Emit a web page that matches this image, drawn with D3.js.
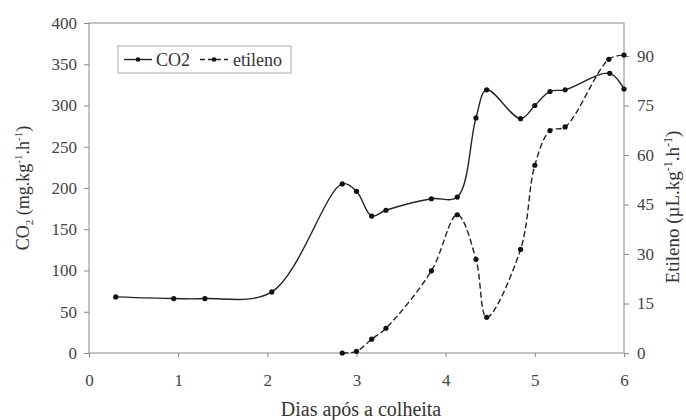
<!DOCTYPE html>
<html lang="pt">
<head>
<meta charset="utf-8">
<title>CO2 e etileno</title>
<script src="https://cdn.jsdelivr.net/npm/d3@7"></script>
<style>
  body { margin: 0; background: #fff; }
  svg text { font-family: "Liberation Serif", "DejaVu Serif", serif; fill: #333; }
  .axis path, .axis line { stroke: #888; }
  .axis text { font-size: 17px; fill: #444; }
</style>
</head>
<body>
<div id="chart"></div>
<script>
var co2Dias = [0.3, 0.95, 1.3, 2.05, 2.84, 3.0, 3.17, 3.33, 3.84, 4.13, 4.34, 4.46, 4.84, 5.0, 5.17, 5.34, 5.84, 6.0];
var co2Valores = [68, 66, 66, 74, 205, 196, 166, 173, 187, 189, 285, 319, 284, 300, 317, 319, 339, 320];

var etilenoDias = [2.84, 3.0, 3.17, 3.33, 3.84, 4.13, 4.34, 4.46, 4.84, 5.0, 5.17, 5.34, 5.83, 6.0];
var etilenoValores = [0, 0.5, 4.2, 7.5, 24.9, 41.9, 28.4, 10.8, 31.4, 56.9, 67.4, 68.5, 89, 90.3];

var xTicks = [0, 1, 2, 3, 4, 5, 6];
var yTicks = [0, 50, 100, 150, 200, 250, 300, 350, 400];
var y2Ticks = [0, 15, 30, 45, 60, 75, 90];

var width = 686, height = 420;
var margin = {top: 23, right: 62, bottom: 67, left: 89};

var svg = d3.select("#chart").append("svg")
    .attr("width", width)
    .attr("height", height);

var x = d3.scaleLinear().domain([0, 6]).range([margin.left, width - margin.right]);
var y = d3.scaleLinear().domain([0, 400]).range([height - margin.bottom, margin.top]);
var y2 = d3.scaleLinear().domain([0, 100]).range([height - margin.bottom, margin.top]);

// moldura
svg.append("rect")
    .attr("x", margin.left).attr("y", margin.top)
    .attr("width", width - margin.left - margin.right)
    .attr("height", height - margin.top - margin.bottom)
    .attr("fill", "none").attr("stroke", "#888");

function limpa(g) {
  g.attr("font-family", null).attr("font-size", null);
  g.select(".domain").remove();
}

svg.append("g").attr("class", "axis")
    .attr("transform", "translate(0," + (height - margin.bottom) + ")")
    .call(d3.axisBottom(x).tickValues(xTicks).tickFormat(d3.format("d")).tickSize(4).tickPadding(17))
    .call(limpa);

svg.append("g").attr("class", "axis")
    .attr("transform", "translate(" + margin.left + ",0)")
    .call(d3.axisLeft(y).tickValues(yTicks).tickSize(5).tickPadding(7))
    .call(limpa);

svg.append("g").attr("class", "axis")
    .attr("transform", "translate(" + (width - margin.right) + ",0)")
    .call(d3.axisRight(y2).tickValues(y2Ticks).tickSize(5).tickPadding(8))
    .call(limpa);

var co2 = co2Dias.map(function(d, i) { return [d, co2Valores[i]]; });
var etileno = etilenoDias.map(function(d, i) { return [d, etilenoValores[i]]; });

var lineCo2 = d3.line()
    .x(function(d) { return x(d[0]); })
    .y(function(d) { return y(d[1]); })
    .curve(d3.curveCatmullRom.alpha(0.5));

var lineEt = d3.line()
    .x(function(d) { return x(d[0]); })
    .y(function(d) { return y2(d[1]); })
    .curve(d3.curveCatmullRom.alpha(0.5));

svg.append("path").datum(co2)
    .attr("d", lineCo2)
    .attr("fill", "none").attr("stroke", "#222").attr("stroke-width", 1.4);

svg.append("path").datum(etileno)
    .attr("d", lineEt)
    .attr("fill", "none").attr("stroke", "#222").attr("stroke-width", 1.4)
    .attr("stroke-dasharray", "6,3");

svg.append("g").selectAll("circle").data(co2).enter().append("circle")
    .attr("cx", function(d) { return x(d[0]); })
    .attr("cy", function(d) { return y(d[1]); })
    .attr("r", 2.6).attr("fill", "#111");

svg.append("g").selectAll("circle").data(etileno).enter().append("circle")
    .attr("cx", function(d) { return x(d[0]); })
    .attr("cy", function(d) { return y2(d[1]); })
    .attr("r", 2.6).attr("fill", "#111");

// legenda
var leg = svg.append("g");
leg.append("rect")
    .attr("x", 118).attr("y", 46).attr("width", 173).attr("height", 27)
    .attr("fill", "#fff").attr("stroke", "#aaa");
leg.append("line").attr("x1", 124).attr("x2", 152).attr("y1", 59.5).attr("y2", 59.5)
    .attr("stroke", "#222").attr("stroke-width", 1.4);
leg.append("circle").attr("cx", 138).attr("cy", 59.5).attr("r", 2.3).attr("fill", "#111");
leg.append("text").attr("x", 156).attr("y", 66).attr("font-size", 18).text("CO2");
leg.append("line").attr("x1", 200).attr("x2", 228).attr("y1", 59.5).attr("y2", 59.5)
    .attr("stroke", "#222").attr("stroke-width", 1.4).attr("stroke-dasharray", "5,3");
leg.append("circle").attr("cx", 214).attr("cy", 59.5).attr("r", 2.3).attr("fill", "#111");
leg.append("text").attr("x", 233).attr("y", 66).attr("font-size", 18).text("etileno");

// títulos
svg.append("text")
    .attr("x", 361).attr("y", 416)
    .attr("text-anchor", "middle").attr("font-size", 20)
    .text("Dias após a colheita");

var t1 = svg.append("text")
    .attr("transform", "translate(29,188) rotate(-90)")
    .attr("text-anchor", "middle").attr("font-size", 18);
t1.append("tspan").text("CO");
t1.append("tspan").attr("font-size", 11).attr("dy", 4).text("2");
t1.append("tspan").attr("dy", -4).text(" (mg.kg");
t1.append("tspan").attr("font-size", 11).attr("dy", -7).text("-1");
t1.append("tspan").attr("dy", 7).text(".h");
t1.append("tspan").attr("font-size", 11).attr("dy", -7).text("-1");
t1.append("tspan").attr("dy", 7).text(")");

var t2 = svg.append("text")
    .attr("transform", "translate(679,207) rotate(-90)")
    .attr("text-anchor", "middle").attr("font-size", 19);
t2.append("tspan").text("Etileno (µL.kg");
t2.append("tspan").attr("font-size", 12).attr("dy", -7).text("-1");
t2.append("tspan").attr("dy", 7).text(".h");
t2.append("tspan").attr("font-size", 12).attr("dy", -7).text("-1");
t2.append("tspan").attr("dy", 7).text(")");
</script>
</body>
</html>
